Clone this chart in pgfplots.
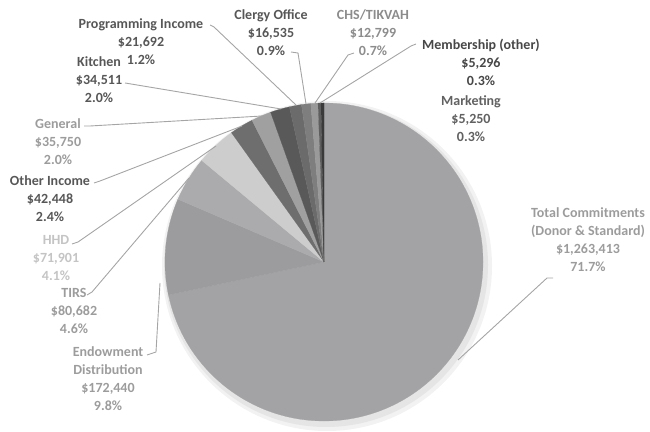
\documentclass[border=0pt]{standalone}
\usepackage{fontspec}
\setmainfont{Carlito}
\usepackage{pgfplots}
\pgfplotsset{compat=1.18}

% slice colours
\definecolor{sTot}{HTML}{A3A3A5}
\definecolor{sEnd}{HTML}{9C9C9E}
\definecolor{sTIR}{HTML}{ABABAD}
\definecolor{sHHD}{HTML}{CDCDCD}
\definecolor{sOth}{HTML}{6E6E6E}
\definecolor{sGen}{HTML}{A0A0A0}
\definecolor{sKit}{HTML}{595959}
\definecolor{sPro}{HTML}{6B6B6B}
\definecolor{sCle}{HTML}{7E7E7E}
\definecolor{sCHS}{HTML}{9A9A9A}
\definecolor{sMem}{HTML}{5E5E5E}
\definecolor{sMar}{HTML}{3A3A3A}
% label colours
\definecolor{tDark}{HTML}{575757}
\definecolor{tMid}{HTML}{8C8C8C}
\definecolor{tLight}{HTML}{9C9C9C}
\definecolor{tHHD}{HTML}{C4C4C4}
\definecolor{lead}{HTML}{A5A5A5}

\newcommand\total{1762717}
\gdef\cumsum{0}
\newcommand\slice[2]{%
  \edef\sA{\fpeval{round(90-360*(\cumsum+#1)/\total,4)}}%
  \edef\sB{\fpeval{round(90-360*(\cumsum)/\total,4)}}%
  \edef\px{\fpeval{round(159*cosd(\sB),3)}}%
  \edef\py{\fpeval{round(159*sind(\sB),3)}}%
  \xdef\cumsum{\fpeval{\cumsum+#1}}%
  \edef\tmp{\noexpand\fill[#2, draw=#2, line width=0.2pt] (axis cs:0,0) -- (axis cs:\px,\py) arc[start angle=\sB, end angle=\sA, radius=159pt] -- cycle;}%
  \tmp}

\tikzset{lab/.style={align=center, font=\fontsize{14}{18}\selectfont\bfseries, inner sep=0pt},
         ldr/.style={draw=lead, line width=0.9pt}}

\begin{document}
\begin{tikzpicture}
\begin{axis}[x=1pt, y=1pt, xmin=-324, xmax=326, ymin=-168, ymax=262,
  hide axis, clip=false, enlargelimits=false]
\path (axis cs:-324,-168) rectangle (axis cs:326,262);
% soft shadow
\fill[black!5] (axis cs:3,-4) circle[radius=165pt];
\fill[black!10] (axis cs:2,-3) circle[radius=162pt];
% slices, clockwise from 12 o'clock
\slice{1263413}{sTot}
\slice{172440}{sEnd}
\slice{80682}{sTIR}
\slice{71901}{sHHD}
\slice{42448}{sOth}
\slice{35750}{sGen}
\slice{34511}{sKit}
\slice{21692}{sPro}
\slice{16535}{sCle}
\slice{12799}{sCHS}
\slice{5296}{sMem}
\slice{5250}{sMar}
% leader lines
\draw[ldr] (axis cs:-114,237) -- (axis cs:-110,235) -- (axis cs:-28,157);
\draw[ldr] (axis cs:-33,210) -- (axis cs:-26,209) -- (axis cs:-18,158);
\draw[ldr] (axis cs:30,209) -- (axis cs:24,207) -- (axis cs:-9,159);
\draw[ldr] (axis cs:92,218) -- (axis cs:87,216) -- (axis cs:-4,159);
\draw[ldr] (axis cs:-199,179) -- (axis cs:-193,178) -- (axis cs:-43,153);
\draw[ldr] (axis cs:-240,136) -- (axis cs:-234,136) -- (axis cs:-62,146);
\draw[ldr] (axis cs:-230,79) -- (axis cs:-224,81) -- (axis cs:-82,136);
\draw[ldr] (axis cs:-252,18) -- (axis cs:-246,20) -- (axis cs:-108,116);
\draw[ldr] (axis cs:-237,-33) -- (axis cs:-232,-30) -- (axis cs:-135,84);
\draw[ldr] (axis cs:-177,-93) -- (axis cs:-168,-90) -- (axis cs:-164,-21);
\draw[ldr] (axis cs:229,-16) -- (axis cs:223,-16) -- (axis cs:134,-98);
% labels
\node[lab, text=tDark] at (axis cs:-183,220) {Programming Income\\\$21,692\\1.2\%};
\node[lab, text=tDark] at (axis cs:-53,229) {Clergy Office\\\$16,535\\0.9\%};
\node[lab, text=tMid] at (axis cs:49,229) {CHS/TIKVAH\\\$12,799\\0.7\%};
\node[lab, text=black!72] at (axis cs:157,200) {Membership (other)\\\$5,296\\0.3\%};
\node[lab, text=black!62] at (axis cs:147,143) {Marketing\\\$5,250\\0.3\%};
\node[lab, text=tDark] at (axis cs:-225,182) {Kitchen\\\$34,511\\2.0\%};
\node[lab, text=tLight] at (axis cs:-266,120) {General\\\$35,750\\2.0\%};
\node[lab, text=tDark] at (axis cs:-274,63) {Other Income\\\$42,448\\2.4\%};
\node[lab, text=tHHD] at (axis cs:-268,4) {HHD\\\$71,901\\4.1\%};
\node[lab, text=tLight] at (axis cs:-250,-49) {TIRS\\\$80,682\\4.6\%};
\node[lab, text=tLight] at (axis cs:-216,-117) {Endowment\\Distribution\\\$172,440\\9.8\%};
\node[lab, text=tLight] at (axis cs:264,22.5) {Total Commitments\\(Donor \& Standard)\\\$1,263,413\\71.7\%};
\end{axis}
\end{tikzpicture}
\end{document}
